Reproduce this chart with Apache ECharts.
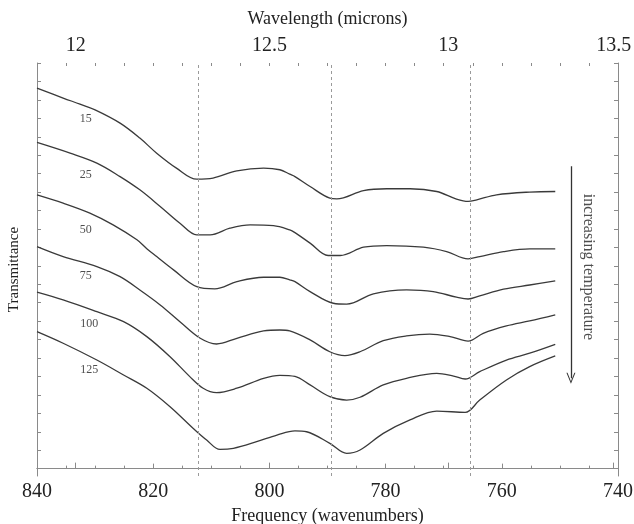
<!DOCTYPE html>
<html>
<head>
<meta charset="utf-8">
<script src="https://cdn.jsdelivr.net/npm/echarts@6/dist/echarts.min.js"></script>
<style>
  html, body { margin: 0; padding: 0; background: #fff; }
  #chart { width: 634px; height: 524px; }
</style>
</head>
<body>
<div id="chart"></div>
<script>
// spectra: [wavenumber, transmittance (arbitrary, offset)]
var t15 = [[840, 20.64], [835.5, 20.10], [832.6, 19.77], [830.0, 19.46], [825.7, 18.74], [822.3, 17.93], [819.4, 17.11], [816.0, 16.30], [812.5, 15.70], [809.7, 15.76], [805.6, 16.15], [801.0, 16.30], [798.2, 16.21], [796.5, 15.97], [795.6, 15.84], [793.0, 15.30], [789.6, 14.67], [788.4, 14.63], [783.8, 15.08], [779.8, 15.18], [775.8, 15.18], [771.2, 15.03], [767.8, 14.62], [765.8, 14.49], [764.3, 14.58], [760.9, 14.85], [755.2, 15.00], [750.8, 15.03]]
var t25 = [[840, 17.69], [834.3, 17.11], [829.7, 16.57], [825.7, 15.84], [822.3, 15.12], [818.8, 14.22], [815.4, 13.31], [812.5, 12.68], [810.2, 12.68], [806.8, 13.04], [803.3, 13.22], [799.3, 13.18], [796.5, 12.95], [795.6, 12.80], [793.0, 12.23], [789.9, 11.56], [787.8, 11.56], [783.8, 12.01], [779.8, 12.10], [773.5, 12.01], [769.5, 11.77], [765.8, 11.38], [763.8, 11.50], [759.7, 11.77], [755.2, 11.92], [750.8, 11.92]]
var t50 = [[840, 14.85], [835.5, 14.40], [830.9, 13.86], [826.9, 13.22], [822.8, 12.41], [821.1, 11.93], [819.4, 11.50], [816.5, 10.78], [812.5, 9.87], [809.4, 9.75], [805.6, 10.14], [801.0, 10.38], [798.2, 10.38], [796.5, 10.24], [795.6, 10.14], [793.0, 9.60], [789.0, 8.97], [786.7, 8.92], [782.1, 9.48], [776.4, 9.69], [771.8, 9.60], [767.8, 9.30], [765.8, 9.20], [763.8, 9.37], [759.7, 9.73], [755.2, 9.96], [750.8, 10.18]]
var t75 = [[840, 12.04], [835.5, 11.50], [829.7, 10.96], [825.7, 10.41], [822.3, 9.69], [818.8, 8.88], [815.4, 7.97], [811.9, 7.07], [809.1, 6.76], [805.6, 7.07], [801.0, 7.47], [798.2, 7.52], [796.5, 7.47], [793.0, 6.98], [789.6, 6.34], [787.0, 6.13], [784.4, 6.34], [780.4, 6.94], [776.4, 7.20], [772.4, 7.30], [768.9, 7.16], [765.8, 6.92], [763.2, 7.34], [759.2, 7.74], [755.2, 8.01], [750.8, 8.34]]
var t100 = [[840, 9.57], [835.5, 9.15], [829.7, 8.51], [825.1, 7.97], [821.1, 7.16], [817.1, 6.07], [813.7, 4.99], [811.4, 4.36], [809.1, 4.12], [805.6, 4.36], [801.0, 4.90], [798.2, 5.06], [795.6, 5.00], [793.0, 4.54], [789.6, 3.90], [786.7, 3.72], [784.4, 3.87], [780.4, 4.54], [776.4, 4.90], [771.2, 5.17], [768.3, 5.02], [766.3, 4.86], [763.8, 5.26], [759.2, 5.89], [755.2, 6.26], [750.8, 6.74]]
var t125 = [[840, 7.43], [835.5, 6.80], [829.7, 5.89], [825.1, 5.08], [821.1, 4.36], [817.1, 3.36], [813.1, 2.18], [810.8, 1.55], [808.5, 1.04], [806.2, 1.10], [802.2, 1.46], [798.7, 1.82], [795.6, 2.05], [793.6, 2.00], [789.6, 1.37], [786.7, 0.83], [784.4, 1.01], [780.4, 1.91], [775.8, 2.64], [771.2, 3.12], [766.3, 3.05], [763.8, 3.72], [759.2, 4.81], [755.2, 5.53], [750.8, 6.11]]

var temps = ['15', '25', '50', '75', '100', '125']
var labelX = [831.6, 831.6, 831.6, 831.6, 831.0, 831.0]
var labelY = [18.98, 15.94, 12.95, 10.45, 7.85, 5.35]

// dashed guide lines (wavenumbers)
var guides = [812.3, 789.4, 765.5]
// top axis ticks in microns
var microns = [12, 12.5, 13, 13.5]
var yTicks = []
for (var i = 0; i <= 22; i++) yTicks.push(i)

var serif = 'Liberation Serif'
var ink = '#222'
var axisGray = '#8a8a8a'

var spectra = [t15, t25, t50, t75, t100, t125]
var series = spectra.map(function (d, i) {
  var s = {
    name: temps[i],
    type: 'line',
    data: d,
    showSymbol: false,
    smooth: 0.35,
    lineStyle: { color: '#3a3a3a', width: 1.3 }
  }
  if (i == 0) {
    s.markLine = {
      silent: true,
      symbol: ['none', 'none'],
      label: { show: false },
      lineStyle: { color: '#9a9a9a', type: [3, 3], width: 1 },
      data: guides.map(function (g) { return { xAxis: g } })
    }
  }
  return s
})

// curve labels
series.push({
  type: 'scatter',
  symbolSize: 0,
  data: temps.map(function (t, i) { return [labelX[i], labelY[i], t] }),
  label: {
    show: true, position: 'inside',
    formatter: function (p) { return p.value[2] },
    fontFamily: serif, fontSize: 12, color: ink
  }
})

// arrow + annotation
series.push({
  type: 'scatter',
  symbolSize: 0,
  data: [[745.2, 10.94, 'increasing temperature']],
  label: {
    show: true, position: 'inside', rotate: -90,
    formatter: function (p) { return p.value[2] },
    fontFamily: serif, fontSize: 16, color: ink
  },
  markLine: {
    silent: true,
    symbol: ['none', 'path://M5,0 L10,10 L8.8,10 L5,2.2 L1.2,10 L0,10 Z'],
    symbolSize: [9, 11],
    label: { show: false },
    lineStyle: { color: '#333', type: 'solid', width: 1.3 },
    data: [[{ coord: [748.1, 16.4] }, { coord: [748.1, 4.9] }]]
  }
})

var myChart = echarts.init(document.getElementById('chart'))

var option = {
  animation: false,
  grid: { left: 37, right: 16, top: 63, bottom: 48, outerBoundsMode: 'none', containLabel: false },
  xAxis: [
    {
      type: 'value', position: 'bottom', min: 740, max: 840, interval: 20, inverse: true,
      name: 'Frequency (wavenumbers)', nameLocation: 'middle', nameGap: 28,
      nameTextStyle: { fontFamily: serif, fontSize: 18, color: ink },
      axisLine: { lineStyle: { color: axisGray } },
      axisTick: { inside: true, length: 5, lineStyle: { color: axisGray } },
      minorTick: { show: true, splitNumber: 4, length: 3, lineStyle: { color: axisGray } },
      axisLabel: { fontFamily: serif, fontSize: 20, color: ink, margin: 6 },
      splitLine: { show: false }
    },
    {
      type: 'value', position: 'top', min: 740, max: 840, inverse: true,
      name: 'Wavelength (microns)', nameLocation: 'middle', nameGap: 35,
      nameTextStyle: { fontFamily: serif, fontSize: 18, color: ink },
      axisLine: { lineStyle: { color: axisGray } },
      axisTick: { inside: false, length: 6, lineStyle: { color: axisGray },
        customValues: microns.map(function (m) { return 10000 / m }) },
      axisLabel: { fontFamily: serif, fontSize: 20, color: ink, margin: 7,
        customValues: microns.map(function (m) { return 10000 / m }),
        formatter: function (v) { return String(Math.round(10000 / v * 10) / 10) } },
      splitLine: { show: false }
    },
    {
      type: 'value', position: 'top', min: 740, max: 840, interval: 5, inverse: true,
      axisLine: { show: false },
      axisTick: { inside: true, length: 3, lineStyle: { color: axisGray } },
      axisLabel: { show: false },
      splitLine: { show: false }
    }
  ],
  yAxis: [
    {
      type: 'value', position: 'left', min: -0.4, max: 22,
      name: 'Transmittance', nameLocation: 'middle', nameGap: 15,
      nameTextStyle: { fontFamily: serif, fontSize: 15, color: ink },
      axisLine: { show: true, lineStyle: { color: axisGray } },
      axisTick: { show: true, inside: true, length: 4, lineStyle: { color: axisGray }, customValues: yTicks },
      axisLabel: { show: false },
      splitLine: { show: false }
    },
    {
      type: 'value', position: 'right', min: -0.4, max: 22,
      axisLine: { show: true, lineStyle: { color: axisGray } },
      axisTick: { show: true, inside: true, length: 4, lineStyle: { color: axisGray }, customValues: yTicks },
      axisLabel: { show: false },
      splitLine: { show: false }
    }
  ],
  series: series
}

myChart.setOption(option)
</script>
</body>
</html>
